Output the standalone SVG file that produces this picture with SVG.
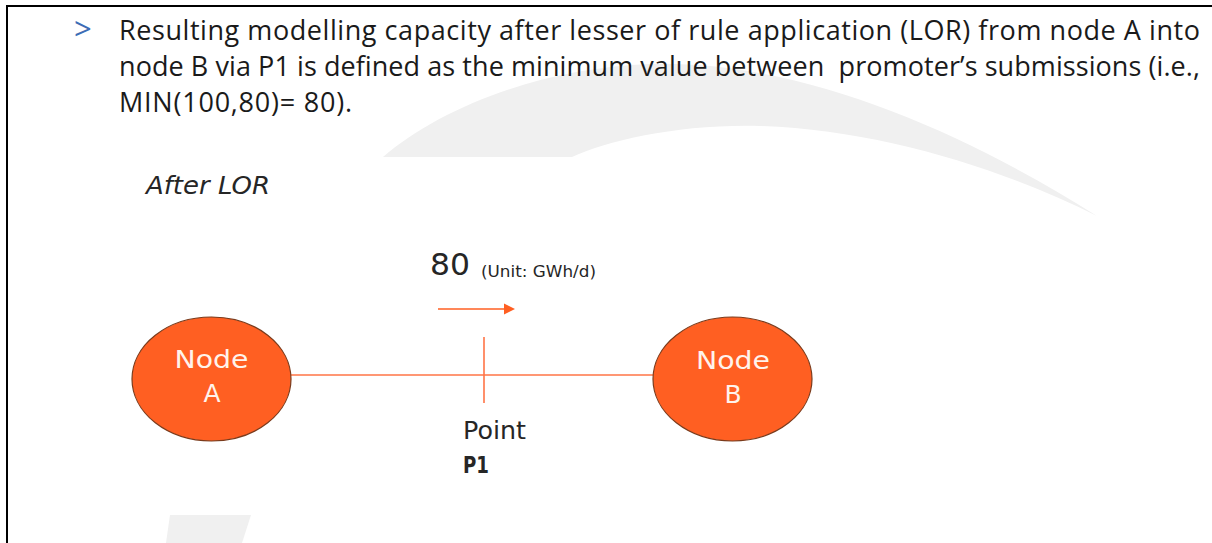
<svg xmlns="http://www.w3.org/2000/svg" width="1212" height="543" viewBox="0 0 1212 543">
  <style>
    .body { font-family: "Open Sans", "Liberation Sans", sans-serif; font-size: 27px; fill: #1a1a1a; }
    .lbl { font-family: "DejaVu Sans", "Liberation Sans", sans-serif; fill: #262626; }
    .nodetxt { font-family: "DejaVu Sans", "Liberation Sans", sans-serif; font-size: 25px; fill: #fff3ec; text-anchor: middle; }
    .node { fill: #ff5f22; stroke: #7a3b1c; stroke-width: 1.2; }
    .link { stroke: #ff7446; stroke-width: 1.6; fill: none; }
    .mark { fill: #f0f0f0; }
  </style>
  <defs>
    <marker id="head" viewBox="0 0 10 10" refX="0" refY="5" markerWidth="11" markerHeight="12" markerUnits="userSpaceOnUse" orient="auto">
      <path d="M0,0 L10,5 L0,10 Z" fill="#ff5f22"/>
    </marker>
  </defs>

  <rect width="1212" height="543" fill="#ffffff"/>

  <!-- background swoosh decoration -->
  <path class="mark" d="M 383,157 C 440,108 540,68 650,64 C 800,60 960,130 1097,216 C 1000,168 880,130 760,126 C 680,124 610,140 572,157 Z"/>
  <path class="mark" d="M 170,515 L 251,515 L 242,543 L 166,543 Z"/>

  <!-- frame -->
  <path d="M 7,543 L 7,6 L 1212,6" fill="none" stroke="#000" stroke-width="2"/>

  <!-- explanatory text -->
  <g id="caption">
    <text x="74" y="40" font-family="Open Sans, Liberation Sans, sans-serif" font-size="31" fill="#3d6db5">&gt;</text>
    <text class="body" x="119" y="40" textLength="1081" lengthAdjust="spacing">Resulting modelling capacity after lesser of rule application (LOR) from node A into</text>
    <text class="body" x="119" y="76" textLength="1081" lengthAdjust="spacing" xml:space="preserve">node B via P1 is defined as the minimum value between  promoter’s submissions (i.e.,</text>
    <text class="body" x="119" y="112" textLength="233" lengthAdjust="spacing">MIN(100,80)= 80).</text>
  </g>

  <g id="title">
    <text class="lbl" x="146" y="194" font-size="24" font-style="italic" textLength="124" lengthAdjust="spacingAndGlyphs">After LOR</text>
  </g>

  <!-- connectors -->
  <g id="connectors">
    <line class="link" x1="291" y1="375" x2="653" y2="375"/>
    <line class="link" x1="484" y1="337" x2="484" y2="403"/>
    <line x1="438" y1="309" x2="504" y2="309" stroke="#ff5f22" stroke-width="1.6" marker-end="url(#head)"/>
  </g>

  <g id="flow-label">
    <text class="lbl" x="430" y="275" font-size="31" textLength="40" lengthAdjust="spacingAndGlyphs">80</text>
    <text class="lbl" x="481" y="277" font-size="15" textLength="115" lengthAdjust="spacingAndGlyphs">(Unit: GWh/d)</text>
  </g>

  <g id="node-a">
    <ellipse class="node" cx="211.5" cy="379" rx="79.5" ry="62"/>
    <text class="nodetxt" x="211.5" y="368" textLength="74" lengthAdjust="spacingAndGlyphs">Node</text>
    <text class="nodetxt" x="212" y="402">A</text>
  </g>

  <g id="node-b">
    <ellipse class="node" cx="732.5" cy="379" rx="79.5" ry="62"/>
    <text class="nodetxt" x="733" y="369" textLength="74" lengthAdjust="spacingAndGlyphs">Node</text>
    <text class="nodetxt" x="733" y="403">B</text>
  </g>

  <g id="point-p1">
    <text class="lbl" x="463" y="439" font-size="25" textLength="63" lengthAdjust="spacingAndGlyphs">Point</text>
    <text class="lbl" x="463" y="473" font-size="23" font-weight="bold" fill="#000" textLength="26" lengthAdjust="spacingAndGlyphs">P1</text>
  </g>
</svg>
